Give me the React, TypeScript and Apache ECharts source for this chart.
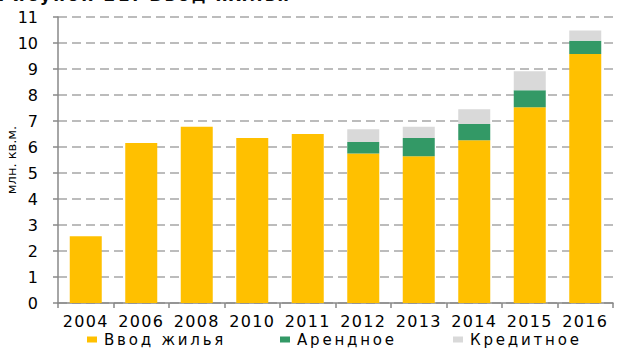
import React, { useEffect, useRef } from "react";
import * as echarts from "echarts";

const categories = ["2004", "2006", "2008", "2010", "2011", "2012", "2013", "2014", "2015", "2016"];
const housing = [2.57, 6.15, 6.78, 6.35, 6.5, 5.75, 5.64, 6.26, 7.53, 9.58];
const rental = [null, null, null, null, null, 0.44, 0.71, 0.62, 0.65, 0.51];
const credit = [null, null, null, null, null, 0.49, 0.43, 0.57, 0.73, 0.39];
const seriesNames = ["Ввод жилья", "Арендное", "Кредитное"];
const seriesColors = ["#FFC000", "#339966", "#D9D9D9"];
const titleText = "Рисунок 21. Ввод жилья";
const yAxisName = "млн. кв.м.";

const FONT = "DejaVu Sans, Verdana, sans-serif";

export default function App() {
  const ref = useRef<HTMLDivElement>(null);
  useEffect(() => {
    if (!ref.current) return;
    const chart = echarts.init(ref.current, null, { renderer: "svg" });
    const dataSets = [housing, rental, credit];
    const legendLefts = [87, 280, 453];
    chart.setOption({
      animation: false,
      backgroundColor: "#ffffff",
      title: {
        text: titleText,
        left: -2,
        top: -14,
        padding: 0,
        textStyle: { fontFamily: FONT, fontSize: 17, fontWeight: "bold", color: "#0a0a0a" },
      },
      legend: seriesNames.map((n, i) => ({
        data: [n],
        left: legendLefts[i],
        top: 332,
        padding: 0,
        icon: "rect",
        itemWidth: 10,
        itemHeight: 6,
        itemGap: 0,
        selectedMode: false,
        textStyle: { fontFamily: FONT, fontSize: 15, color: "#020202", padding: [0, 0, 0, 2] },
      })),
      grid: { left: 58, right: 5, top: 17, bottom: 47, containLabel: false, outerBoundsMode: "none" },
      xAxis: {
        type: "category",
        data: categories,
        axisLine: { lineStyle: { color: "#888888", width: 1.5 } },
        axisTick: { show: true, length: 5, lineStyle: { color: "#888888", width: 1.5 } },
        axisLabel: { fontFamily: FONT, fontSize: 16, color: "#000000", margin: 10, interval: 0 },
      },
      yAxis: {
        type: "value",
        min: 0,
        max: 11,
        interval: 1,
        name: yAxisName,
        nameLocation: "middle",
        nameGap: 40,
        nameRotate: 90,
        nameMoveOverlap: false,
        nameTextStyle: { fontFamily: FONT, fontSize: 13, color: "#030303" },
        axisLine: { show: true, lineStyle: { color: "#888888", width: 1.5 } },
        axisTick: { show: true, length: 5, lineStyle: { color: "#888888", width: 1.5 } },
        axisLabel: { fontFamily: FONT, fontSize: 16, color: "#010101", margin: 20 },
        splitLine: { show: true, lineStyle: { color: "#A6A6A6", width: 1.5, type: [9, 5] } },
      },
      series: seriesNames.map((n, i) => ({
        name: n,
        type: "bar",
        stack: "total",
        barWidth: 32,
        data: dataSets[i],
        itemStyle: { color: seriesColors[i] },
      })),
    });
    return () => chart.dispose();
  }, []);
  return (
    <>
      <style>{`
        text[fill="#020202"] { letter-spacing: 2.8px; }
        text[fill="#000000"] { letter-spacing: 1.3px; }
        text[fill="#0a0a0a"] { letter-spacing: 2.4px; }
      `}</style>
      <div
        ref={ref}
        style={{ position: "fixed", left: 0, top: 0, width: 618, height: 350 }}
      />
    </>
  );
}
